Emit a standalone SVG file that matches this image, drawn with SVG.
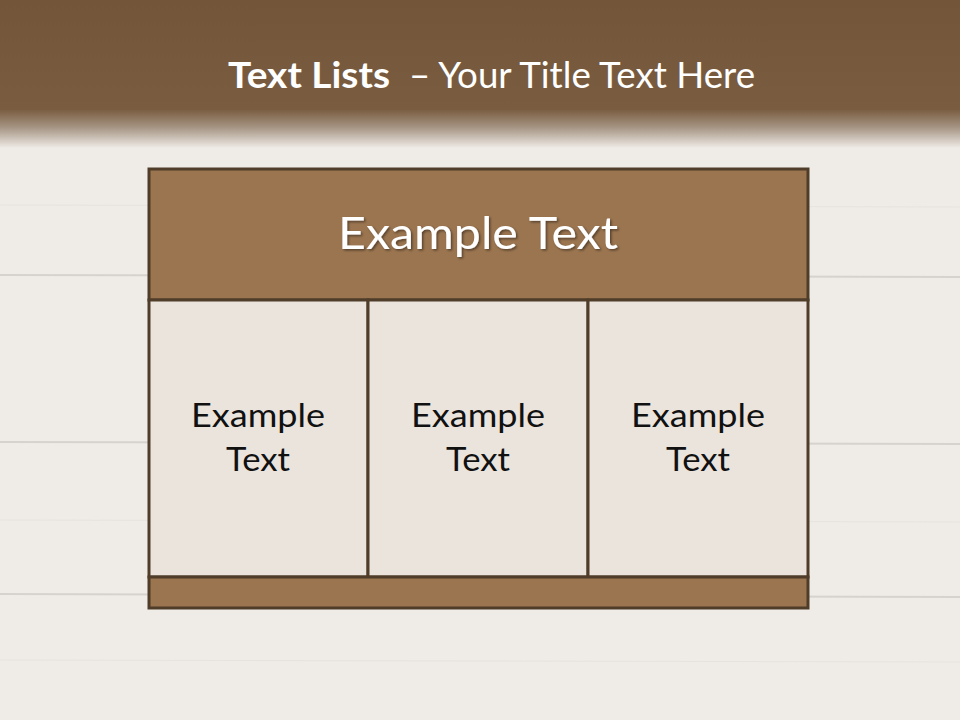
<svg xmlns="http://www.w3.org/2000/svg" width="960" height="720" viewBox="0 0 960 720">
<defs>
<linearGradient id="hdr" x1="0" y1="0" x2="0" y2="1">
<stop offset="0" stop-color="#73553a"/>
<stop offset="0.74" stop-color="#7a5d41"/>
<stop offset="0.86" stop-color="#a59483"/>
<stop offset="1" stop-color="#efebe6"/>
</linearGradient>
<filter id="sh" x="-5%" y="-20%" width="110%" height="140%">
<feDropShadow dx="1.5" dy="1.5" stdDeviation="1" flood-color="#000" flood-opacity="0.45"/>
</filter>
<style>
.plank{stroke:#d6d3cf;stroke-width:2}
.frame{stroke:#4f3c29;stroke-width:3}
.brown{fill:#9b7550}
.cell{fill:#ebe4dd}
.ct{font-family:"Lato","Open Sans",sans-serif;font-size:32px;fill:#111;text-anchor:middle}
.tt{font-family:"Lato","Open Sans",sans-serif;font-size:36px;fill:#fff}
</style>
</defs>
<rect width="960" height="720" fill="#efece7"/>
<g id="planks">
<line class="plank" x1="0" y1="275" x2="960" y2="277"/>
<line class="plank" x1="0" y1="442" x2="960" y2="444"/>
<line class="plank" x1="0" y1="594" x2="960" y2="597"/>
<line x1="0" y1="205" x2="960" y2="207" stroke="#e6e3de" stroke-width="1"/>
<line x1="0" y1="520" x2="960" y2="522" stroke="#e6e3de" stroke-width="1"/>
<line x1="0" y1="660" x2="960" y2="662" stroke="#e6e3de" stroke-width="1"/>
</g>
<rect width="960" height="148" fill="url(#hdr)"/>
<g id="title">
<text class="tt" x="228" y="88" font-weight="bold" textLength="162" lengthAdjust="spacingAndGlyphs">Text Lists</text>
<text class="tt" x="409" y="88" textLength="346" lengthAdjust="spacingAndGlyphs">– Your Title Text Here</text>
</g>
<g id="header">
<rect class="brown frame" x="149" y="169" width="659" height="131"/>
<text x="338" y="249" font-family="Lato,'Open Sans',sans-serif" font-size="45" fill="#fff" filter="url(#sh)" textLength="280" lengthAdjust="spacingAndGlyphs">Example Text</text>
</g>
<g id="cell1">
<rect class="cell frame" x="149" y="300" width="219" height="277"/>
<text class="ct" x="258" y="427" textLength="134" lengthAdjust="spacingAndGlyphs">Example</text>
<text class="ct" x="258" y="471" textLength="64" lengthAdjust="spacingAndGlyphs">Text</text>
</g>
<g id="cell2">
<rect class="cell frame" x="368" y="300" width="220" height="277"/>
<text class="ct" x="478" y="427" textLength="134" lengthAdjust="spacingAndGlyphs">Example</text>
<text class="ct" x="478" y="471" textLength="64" lengthAdjust="spacingAndGlyphs">Text</text>
</g>
<g id="cell3">
<rect class="cell frame" x="588" y="300" width="220" height="277"/>
<text class="ct" x="698" y="427" textLength="134" lengthAdjust="spacingAndGlyphs">Example</text>
<text class="ct" x="698" y="471" textLength="64" lengthAdjust="spacingAndGlyphs">Text</text>
</g>
<g id="footer">
<rect class="brown frame" x="149" y="577" width="659" height="31"/>
</g>
<g id="connectors"/>
</svg>
